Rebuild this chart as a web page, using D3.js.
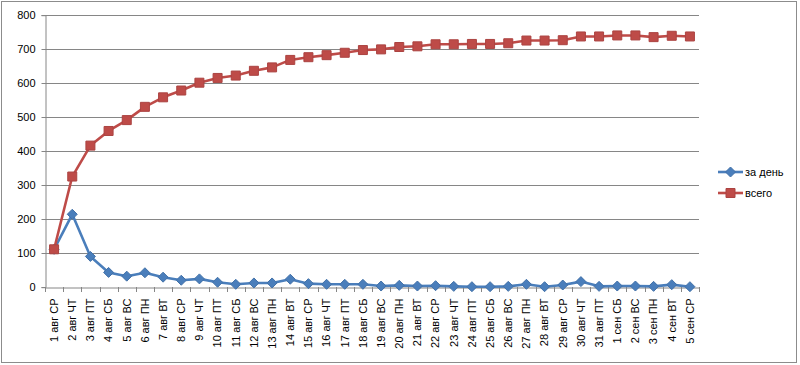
<!DOCTYPE html>
<html>
<head>
<meta charset="utf-8">
<script src="https://cdn.jsdelivr.net/npm/d3@7"></script>
<style>
    body { margin: 0; background: #fff; }
    text { font-family: "Liberation Sans", Arial, sans-serif; }
</style>
</head>
<body>
<svg></svg>
<script>
const width = 800;
const height = 365;

const days = [
    '1 авг СР', '2 авг ЧТ', '3 авг ПТ', '4 авг СБ', '5 авг ВС', '6 авг ПН', '7 авг ВТ',
    '8 авг СР', '9 авг ЧТ', '10 авг ПТ', '11 авг СБ', '12 авг ВС', '13 авг ПН', '14 авг ВТ',
    '15 авг СР', '16 авг ЧТ', '17 авг ПТ', '18 авг СБ', '19 авг ВС', '20 авг ПН', '21 авг ВТ',
    '22 авг СР', '23 авг ЧТ', '24 авг ПТ', '25 авг СБ', '26 авг ВС', '27 авг ПН', '28 авг ВТ',
    '29 авг СР', '30 авг ЧТ', '31 авг ПТ', '1 сен СБ', '2 сен ВС', '3 сен ПН', '4 сен ВТ', '5 сен СР'
];
const perDay = [
    110, 213, 89, 42, 31, 41, 28, 19, 23, 13, 7, 11, 11, 22, 9, 7, 7, 7,
    2, 4, 2, 3, 1, 0, 0, 1, 7, 0, 5, 15, 1, 2, 2, 1, 6, 0
];
const total = [
    110, 324, 415, 458, 490, 529, 557, 577, 600, 614, 621, 635, 645, 667, 675, 681, 688, 696,
    698, 705, 707, 713, 713, 714, 714, 716, 724, 724, 725, 736, 736, 739, 739, 734, 738, 736
];
const yTicks = [0, 100, 200, 300, 400, 500, 600, 700, 800];
const seriesNames = ['за день', 'всего'];

const blue = '#4a7ebb';
const red = '#be4b48';

const svg = d3.select('svg')
    .attr('width', width).attr('height', height);

// chart frame
svg.append('rect')
    .attr('x', 1.5).attr('y', 1.5)
    .attr('width', width - 5).attr('height', height - 4)
    .attr('fill', '#fff')
    .attr('stroke', '#8c8c8c');

const plot = {left: 45, right: 699, top: 14.7, bottom: 286.7};

const x = d3.scaleBand()
    .domain(days)
    .range([plot.left, plot.right]);
const y = d3.scaleLinear()
    .domain([0, 800])
    .range([plot.bottom, plot.top]);

// gridlines
svg.append('g')
    .selectAll('line')
    .data(yTicks.slice(1))
    .enter().append('line')
    .attr('x1', plot.left).attr('x2', plot.right)
    .attr('y1', d => Math.round(y(d)) + 0.5).attr('y2', d => Math.round(y(d)) + 0.5)
    .style('stroke', '#868686');

// y axis
const yAxis = svg.append('g')
    .attr('transform', `translate(${plot.left + 0.5},0.5)`)
    .call(d3.axisLeft(y).tickValues(yTicks).tickSize(4).tickPadding(6).tickFormat(d3.format('d')));
yAxis.select('.domain').attr('stroke', '#868686');
yAxis.selectAll('.tick line').attr('stroke', '#868686');
yAxis.selectAll('.tick text')
    .style('font-size', '11px')
    .attr('fill', '#000');
yAxis.selectAll('.tick').attr('transform', d => `translate(0,${Math.round(y(d))})`);

// x axis
const xAxis = svg.append('g')
    .attr('transform', `translate(0,${Math.round(plot.bottom) + 0.5})`)
    .call(d3.axisBottom(x).tickSize(0).tickPadding(0));
xAxis.select('.domain').attr('stroke', '#868686');
xAxis.selectAll('.tick text')
    .style('font-size', '11px')
    .attr('fill', '#000')
    .attr('text-anchor', 'end')
    .attr('transform', 'rotate(-90)')
    .attr('x', -11)
    .attr('y', 0)
    .attr('dy', '0.35em');
// tick marks between categories
svg.append('g')
    .selectAll('line')
    .data(d3.range(days.length + 1))
    .enter().append('line')
    .attr('x1', i => Math.round(plot.left + i * x.step()) + 0.5)
    .attr('x2', i => Math.round(plot.left + i * x.step()) + 0.5)
    .attr('y1', Math.round(plot.bottom))
    .attr('y2', Math.round(plot.bottom) + 5)
    .style('stroke', '#868686');

// excel-like markers
const diamond = 'M0,-5L5,0L0,5L-5,0Z';
const square = 'M-4.5,-4.5H4.5V4.5H-4.5Z';

const cx = d => x(d) + x.bandwidth() / 2;
const line = d3.line()
    .x((d, i) => cx(days[i]))
    .y(d => y(d));

function drawSeries(values, color, shape) {
    svg.append('path')
        .datum(values)
        .attr('d', line)
        .style('fill', 'none')
        .style('stroke', color)
        .style('stroke-width', 2.6)
        .style('stroke-linejoin', 'round');
    svg.append('g')
        .selectAll('path')
        .data(values)
        .enter().append('path')
        .attr('d', shape)
        .attr('transform', (d, i) => `translate(${cx(days[i])},${y(d)})`)
        .style('fill', color)
        .style('stroke', d3.color(color).darker(0.3));
}

drawSeries(perDay, blue, diamond);
drawSeries(total, red, square);

// legend
const legend = svg.append('g');
[blue, red].forEach((c, i) => {
    const ly = 172 + i * 21;
    const g = legend.append('g');
    g.append('line')
        .attr('x1', 718).attr('x2', 743)
        .attr('y1', ly).attr('y2', ly)
        .style('stroke', c).style('stroke-width', 2.6);
    g.append('path')
        .attr('d', i === 0 ? diamond : square)
        .attr('transform', `translate(730.5,${ly})`)
        .style('fill', c)
        .style('stroke', d3.color(c).darker(0.3));
    g.append('text')
        .attr('x', 745).attr('y', ly)
        .attr('dy', '0.35em')
        .style('font-size', '11px')
        .text(seriesNames[i]);
});
</script>
</body>
</html>
